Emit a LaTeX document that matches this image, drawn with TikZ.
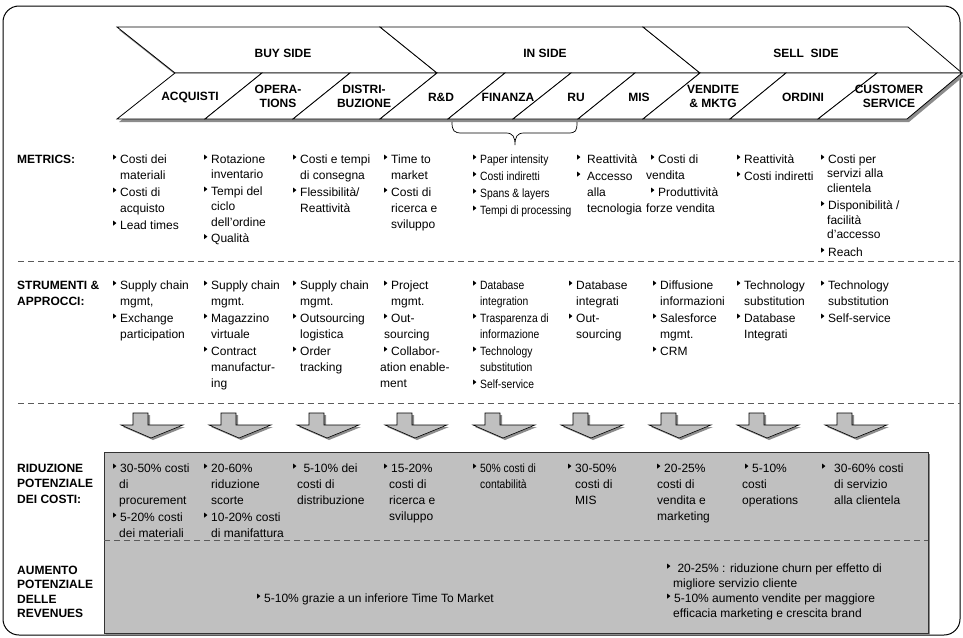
\documentclass[tikz,border=0pt]{standalone}
\usepackage{fontspec}
\setmainfont{Liberation Sans}
\newfontfamily\condensed[FakeStretch=0.86]{Liberation Sans}
\usetikzlibrary{decorations.pathreplacing}
\definecolor{boxgray}{HTML}{C0C0C0}
\definecolor{dashgray}{HTML}{5A5A5A}
\definecolor{shadowgray}{HTML}{8C8C8C}
\newcommand{\tbul}{\makebox[7pt][l]{\tikz[baseline=0pt]\fill[black] (0pt,3.6pt)--(0pt,8.6pt)--(3.2pt,6.1pt)--cycle;}}
\newcommand{\myind}[1][7pt]{\hspace*{#1}}
\newcommand{\fst}{\rule{0pt}{9pt}}
\begin{document}
\begin{tikzpicture}[x=1pt,y=-1pt,
  col/.style={anchor=north west, inner sep=0pt, align=left, font=\fontsize{12}{16}\selectfont},
  ccol/.style={anchor=north west, inner sep=0pt, align=left, font=\condensed\fontsize{12}{16}\selectfont},
  lab/.style={anchor=north west, inner sep=0pt, align=left, font=\fontsize{12}{16}\selectfont\bfseries},
  chev/.style={draw=black, fill=white, line width=0.8pt, line join=miter},
  chevtxt/.style={inner sep=0pt, align=center, font=\fontsize{12}{14}\selectfont\bfseries},
  sep/.style={draw=dashgray, line width=0.8pt, dash pattern=on 6pt off 4pt},
  arr/.style={draw=black, fill=boxgray, line width=0.6pt, line join=miter},
]
\useasboundingbox (0,0) rectangle (963,637);

% outer frame
\draw[line width=1pt, rounded corners=16pt] (3,6) rectangle (960,635);

% chevron band shadow
\begin{scope}[shift={(2,3)}]
\fill[shadowgray] (117,27) -- (908,27) -- (962,73) -- (907,119) -- (117,119) -- (175,73) -- cycle;
\end{scope}
% top chevrons
\path[chev] (117,27) -- (380,27) -- (437,73) -- (175,73) -- cycle;
\path[chev] (380,27) -- (643,27) -- (700,73) -- (437,73) -- cycle;
\path[chev] (643,27) -- (908,27) -- (962,73) -- (700,73) -- cycle;
% bottom parallelograms
\foreach \a/\b/\c/\d in {175/262/205/117, 262/350/293/205, 350/437/380/293, 437/505/448/380,
  505/571/513/448, 571/635/578/513, 635/700/643/578, 700/786/730/643, 786/877/818/730, 877/962/907/818}
  \path[chev] (\a,73) -- (\b,73) -- (\c,119) -- (\d,119) -- cycle;

\node[chevtxt] (buy) at (283,53) {BUY SIDE};
\node[chevtxt] (in) at (545,53) {IN SIDE};
\node[chevtxt] (sell) at (806,53) {SELL\ \ SIDE};
\node[chevtxt] (acq) at (190,97) {ACQUISTI};
\node[chevtxt] (ope) at (278,96) {OPERA-\\TIONS};
\node[chevtxt] (dis) at (364,96) {DISTRI-\\BUZIONE};
\node[chevtxt] (rd) at (441,97) {R\&D};
\node[chevtxt] (fin) at (508,97) {FINANZA};
\node[chevtxt] (ru) at (576,97) {RU};
\node[chevtxt] (mis) at (639,97) {MIS};
\node[chevtxt] (ven) at (713,96) {VENDITE\\\& MKTG};
\node[chevtxt] (ord) at (803,97) {ORDINI};
\node[chevtxt] (cus) at (889,96) {CUSTOMER\\SERVICE};

% brace under FINANZA and RU
\draw[line width=0.7pt] (452,122) .. controls (452,131) and (454,133) .. (462,133) -- (506,133)
  .. controls (513,133) and (515,137) .. (515,145)
  .. controls (515,137) and (517,133) .. (524,133) -- (568,133)
  .. controls (576,133) and (577,131) .. (577,122);

% row labels
\node[lab] (lmet) at (17,154) {\fst METRICS:};
\node[lab] (lstr) at (17,280) {\fst STRUMENTI \&\\APPROCCI:};
\node[lab, font=\fontsize{12}{15.5}\selectfont\bfseries] (lrid) at (17,463) {\fst RIDUZIONE\\POTENZIALE\\DEI COSTI:};
\node[lab, font=\fontsize{12}{14.5}\selectfont\bfseries] (laum) at (17,565) {\fst AUMENTO\\POTENZIALE\\DELLE\\REVENUES};

% metrics
\node[col] (m1) at (113,154) {\fst\tbul Costi dei\\\myind materiali\\[1pt]\tbul Costi di\\\myind acquisto\\[1pt]\tbul Lead times};
\node[col, font=\fontsize{12}{15.5}\selectfont] (m2) at (204,154) {\fst\tbul Rotazione\\\myind inventario\\[1pt]\tbul Tempi del\\\myind ciclo\\\myind dell’ordine\\[1pt]\tbul Qualità};
\node[col] (m3) at (293,154) {\fst\tbul Costi e tempi\\\myind di consegna\\[1pt]\tbul Flessibilità/\\\myind Reattività};
\node[col] (m4) at (384,154) {\fst\tbul Time to\\\myind market\\[1pt]\tbul Costi di\\\myind ricerca e\\\myind sviluppo};
\node[ccol] (m5) at (473,154) {\fst\tbul Paper intensity\\[1pt]\tbul Costi indiretti\\[1pt]\tbul Spans \& layers\\[1pt]\tbul Tempi di processing};
\node[col] (m6) at (577,154) {\fst\tbul\hspace{3pt}Reattività\\[1pt]\tbul\hspace{3pt}Accesso\\\myind[10pt]alla\\\myind[10pt]tecnologia};
\node[col] (m7) at (646,154) {\fst\myind[5pt]\tbul Costi di\\vendita\\[1pt]\myind[5pt]\tbul Produttività\\forze vendita};
\node[col] (m8) at (737,154) {\fst\tbul Reattività\\[1pt]\tbul Costi indiretti};
\node[col, font=\fontsize{12}{14.5}\selectfont] (m9) at (821,154) {\fst\tbul Costi per\\\myind[6pt]servizi alla\\\myind[6pt]clientela\\[3pt]\tbul Disponibilità /\\\myind[6pt]facilità\\\myind[6pt]d’accesso\\[3pt]\tbul Reach};

\path[sep] (18,261) -- (960,261);

% strumenti
\node[col] (s1) at (113,280) {\fst\tbul Supply chain\\\myind mgmt,\\[1pt]\tbul Exchange\\\myind participation};
\node[col] (s2) at (204,280) {\fst\tbul Supply chain\\\myind mgmt.\\[1pt]\tbul Magazzino\\\myind virtuale\\[1pt]\tbul Contract\\\myind manufactur-\\\myind ing};
\node[col] (s3) at (293,280) {\fst\tbul Supply chain\\\myind mgmt.\\[1pt]\tbul Outsourcing\\\myind logistica\\[1pt]\tbul Order\\\myind tracking};
\node[col] (s4) at (380,280) {\fst\myind[4pt]\tbul Project\\\myind[11pt]mgmt.\\[1pt]\myind[4pt]\tbul Out-\\\myind[4pt]sourcing\\[1pt]\myind[4pt]\tbul Collabor-\\ation enable-\\ment};
\node[ccol] (s5) at (473,280) {\fst\tbul Database\\\myind integration\\[1pt]\tbul Trasparenza di\\\myind informazione\\[1pt]\tbul Technology\\\myind substitution\\[1pt]\tbul Self-service};
\node[col] (s6) at (569,280) {\fst\tbul Database\\\myind integrati\\[1pt]\tbul Out-\\\myind sourcing};
\node[col] (s7) at (653,280) {\fst\tbul Diffusione\\\myind informazioni\\[1pt]\tbul Salesforce\\\myind mgmt.\\[1pt]\tbul CRM};
\node[col] (s8) at (737,280) {\fst\tbul Technology\\\myind substitution\\[1pt]\tbul Database\\\myind Integrati};
\node[col] (s9) at (821,280) {\fst\tbul Technology\\\myind substitution\\[1pt]\tbul Self-service};

\path[sep] (18,403) -- (960,403);

% down arrows
\foreach \L [count=\i] in {121,209,297,385,473,561,649,737,825} {
  \fill[shadowgray] (\L+14,415) -- (\L+29,415) -- (\L+29,427) -- (\L+64,427) -- (\L+32,440) -- (\L+2,427) -- (\L+14,427) -- cycle;
  \path[arr] (\L+12,413) -- (\L+27,413) -- (\L+27,425) -- (\L+62,425) -- (\L+30,438) -- (\L,425) -- (\L+12,425) -- cycle;
}

% gray box
\fill[shadowgray] (106,454) rectangle (930,635);
\path[draw=black!80, fill=boxgray, line width=0.8pt] (104,452) rectangle (928,633);
\path[sep] (104,540) -- (928,540);

% riduzione
\node[col] (r1) at (113,463) {\fst\tbul 30-50\% costi\\\myind[6pt]di\\\myind[6pt]procurement\\[1pt]\tbul 5-20\% costi\\\myind[6pt]dei materiali};
\node[col] (r2) at (204,463) {\fst\tbul 20-60\%\\\myind riduzione\\\myind scorte\\[1pt]\tbul 10-20\% costi\\\myind di manifattura};
\node[col] (r3) at (293,463) {\fst\tbul\ 5-10\% dei\\\myind[4pt]costi di\\\myind[4pt]distribuzione};
\node[col] (r4) at (384,463) {\fst\tbul 15-20\%\\\myind[5pt]costi di\\\myind[5pt]ricerca e\\\myind[5pt]sviluppo};
\node[ccol] (r5) at (473,463) {\fst\tbul 50\% costi di\\\myind contabilità};
\node[col] (r6) at (568,463) {\fst\tbul 30-50\%\\\myind costi di\\\myind MIS};
\node[col] (r7) at (657,463) {\fst\tbul 20-25\%\\costi di\\vendita e\\marketing};
\node[col] (r8) at (742,463) {\fst\myind[3pt]\tbul 5-10\%\\costi\\operations};
\node[col] (r9) at (822,463) {\fst\tbul\myind[5pt]30-60\% costi\\\myind[12pt]di servizio\\\myind[12pt]alla clientela};

% revenues
\node[col] (v1) at (257,593) {\fst\tbul 5-10\% grazie a un inferiore Time To Market};
\node[col, font=\fontsize{12}{15}\selectfont] (v2) at (667,563) {\fst\tbul\ 20-25\% : riduzione churn per effetto di\\\myind[6pt]migliore servizio cliente\\\tbul 5-10\% aumento vendite per maggiore\\\myind[6pt]efficacia marketing e crescita brand};
\end{tikzpicture}
\end{document}
